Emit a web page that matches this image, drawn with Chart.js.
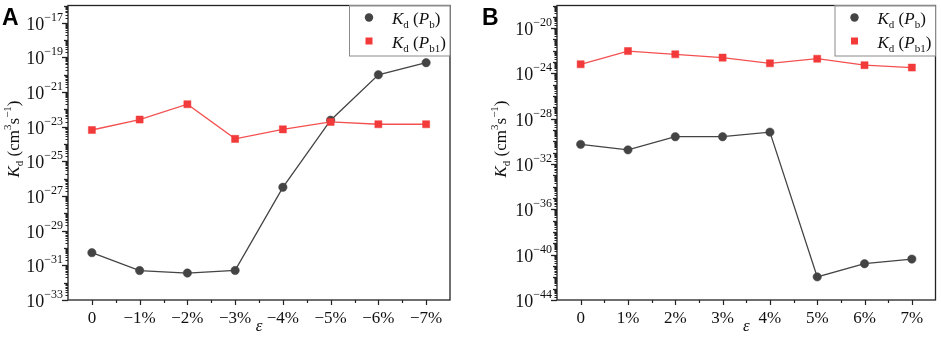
<!DOCTYPE html>
<html><head><meta charset="utf-8">
<script src="https://cdn.jsdelivr.net/npm/chart.js@4/dist/chart.umd.min.js"></script>
<style>
html,body{margin:0;padding:0;background:#fff;}
#wrap{position:relative;width:941px;height:338px;overflow:hidden;background:#fff;}
.panel{position:absolute;top:0;height:338px;}
#pa{left:0;width:470px;}
#pb{left:470px;width:471px;}
</style></head><body>
<div id="wrap">
  <div class="panel" id="pa"><canvas id="ca" width="470" height="338"></canvas></div>
  <div class="panel" id="pb"><canvas id="cb" width="471" height="338"></canvas></div>
</div>
<script>
// ---- data ----
const strainA = ['0', '\u22121%', '\u22122%', '\u22123%', '\u22124%', '\u22125%', '\u22126%', '\u22127%'];
const kdPbA  = [5.4e-31, 5.0e-32, 3.6e-32, 5.1e-32, 3.2e-27, 2.4e-23, 1.0e-20, 5.0e-20];
const kdPb1A = [6.5e-24, 2.6e-23, 2.0e-22, 2.0e-24, 7.1e-24, 1.9e-23, 1.4e-23, 1.4e-23];

const strainB = ['0', '1%', '2%', '3%', '4%', '5%', '6%', '7%'];
const kdPbB  = [5.5e-31, 1.8e-31, 2.6e-30, 2.6e-30, 6.6e-30, 1.1e-42, 1.6e-41, 4.1e-41];
const kdPb1B = [6.5e-24, 9.5e-23, 4.9e-23, 2.5e-23, 7.9e-24, 2.0e-23, 5.4e-24, 3.3e-24];

// y tick label exponents (labelled) and axis ranges (exponents)
const yLabelExpA = [-33, -31, -29, -27, -25, -23, -21, -19, -17];
const yRangeA = [-33, -16];
const yLabelExpB = [-44, -40, -36, -32, -28, -24, -20];
const yRangeB = [-44, -18];

const SERIF = "'Liberation Serif', serif";
const AXIS = '#222';
const BLACK = '#444444';
const RED = '#f23a3a';
const REDLINE = '#f45050';

function drawRich(ctx, x, y, parts) {
  let cx = x;
  for (const [t, size, it, dy] of parts) {
    ctx.font = (it ? 'italic ' : '') + size + 'px ' + SERIF;
    ctx.fillText(t, cx, y + dy);
    cx += ctx.measureText(t).width;
  }
  return cx - x;
}
function richWidth(ctx, parts) {
  let w = 0;
  for (const [t, size, it] of parts) {
    ctx.font = (it ? 'italic ' : '') + size + 'px ' + SERIF;
    w += ctx.measureText(t).width;
  }
  return w;
}

function makePanel(canvas, cfg) {
  const decoPlugin = {
    id: 'deco',
    beforeDraw(chart) {
      const c = chart.ctx;
      c.save(); c.fillStyle = '#fff'; c.fillRect(0, 0, chart.width, chart.height); c.restore();
    },
    afterDatasetsDraw(chart) {
      const c = chart.ctx, a = chart.chartArea;
      const ys = chart.scales.y, xs = chart.scales.x;
      c.save();
      c.strokeStyle = AXIS; c.lineWidth = 1.3;
      c.strokeRect(a.left, a.top, a.right - a.left, a.bottom - a.top);
      c.lineWidth = 1;
      for (let e = cfg.yRange[0]; e <= cfg.yRange[1]; e++) {
        for (let m = 1; m <= 9; m++) {
          const v = m * Math.pow(10, e);
          if (v < ys.min * 0.999 || v > ys.max * 1.001) continue;
          const py = Math.round(ys.getPixelForValue(v)) + 0.5;
          let len = 2.5;
          if (m === 1) len = cfg.yLabelExp.includes(e) ? 6 : 4;
          c.lineWidth = m === 1 ? 1.3 : 1;
          c.beginPath(); c.moveTo(a.left, py); c.lineTo(a.left - len, py); c.stroke();
        }
      }
      c.lineWidth = 1.2;
      c.fillStyle = '#111'; c.textBaseline = 'alphabetic'; c.textAlign = 'left';
      for (const e of cfg.yLabelExp) {
        const py = ys.getPixelForValue(Math.pow(10, e));
        const expTxt = '\u2212' + Math.abs(e);
        const parts = [['10', 18, false, 0], [expTxt, 12, false, -9]];
        const w = richWidth(c, parts);
        drawRich(c, a.left - 5 - w, py + 7, parts);
      }
      const n = xs.getLabels().length;
      for (let i = 0; i < n; i++) {
        const px = Math.round(xs.getPixelForValue(i)) + 0.5;
        c.beginPath(); c.moveTo(px, a.bottom); c.lineTo(px, a.bottom + 5); c.stroke();
        if (i < n - 1) {
          const pm = Math.round(xs.getPixelForValue(i + 0.5)) + 0.5;
          c.beginPath(); c.moveTo(pm, a.bottom); c.lineTo(pm, a.bottom + 3); c.stroke();
        }
      }
      c.font = 'italic 17px ' + SERIF; c.textAlign = 'center';
      c.fillText('\u03b5', (a.left + a.right) / 2, 331);
      c.save();
      c.translate(cfg.yTitleX, 139);
      c.rotate(-Math.PI / 2);
      c.textAlign = 'left';
      const tp = [['K', 17, true, 0], ['d', 11, false, 4], [' (cm', 17, false, 0], ['3', 11, false, -8],
                  ['s', 17, false, 0], ['\u22121', 11, false, -8], [')', 17, false, 0]];
      const tw = richWidth(c, tp);
      drawRich(c, -tw / 2, 6, tp);
      c.restore();
      const bw = 101, bh = 50;
      const bx = a.right - bw, by = a.top;
      c.fillStyle = '#fff'; c.fillRect(bx, by, bw, bh);
      c.strokeStyle = '#8a8a8a'; c.lineWidth = 1;
      c.strokeRect(bx + 0.5, by + 0.5, bw - 0.5, bh);
      c.fillStyle = BLACK;
      c.beginPath(); c.arc(bx + 20, by + 12, 4.2, 0, Math.PI * 2); c.fill();
      c.fillStyle = RED;
      c.fillRect(bx + 16.5, by + 32, 7, 7);
      c.fillStyle = '#111'; c.textAlign = 'left';
      drawRich(c, bx + 43, by + 18, [['K', 17, true, 0], ['d', 11, false, 4], [' (', 17, false, 0], ['P', 17, true, 0], ['b', 11, false, 4], [')', 17, false, 0]]);
      drawRich(c, bx + 43, by + 42, [['K', 17, true, 0], ['d', 11, false, 4], [' (', 17, false, 0], ['P', 17, true, 0], ['b1', 11, false, 4], [')', 17, false, 0]]);
      c.font = "bold 23px 'Liberation Sans', sans-serif";
      c.fillStyle = '#000';
      c.fillText(cfg.letter, cfg.letterX, 25);
      c.restore();
    }
  };

  return new Chart(canvas, {
    type: 'line',
    data: {
      labels: cfg.labels,
      datasets: [
        { label: 'Kd(Pb)', data: cfg.pb, borderColor: BLACK, backgroundColor: BLACK,
          pointBackgroundColor: BLACK, pointBorderColor: BLACK, pointBorderWidth: 0.5,
          pointStyle: 'circle', pointRadius: 4.2, borderWidth: 1.3, order: 1 },
        { label: 'Kd(Pb1)', data: cfg.pb1, borderColor: REDLINE, backgroundColor: RED,
          pointBackgroundColor: RED, pointBorderColor: RED, pointBorderWidth: 0.5,
          pointStyle: 'rect', pointRadius: 5, borderWidth: 1.3, order: 0 }
      ]
    },
    options: {
      responsive: false, animation: false, devicePixelRatio: 1,
      layout: { padding: { left: 0, right: cfg.padRight, top: 2, bottom: 0 } },
      plugins: { legend: { display: false }, tooltip: { enabled: false } },
      scales: {
        x: {
          type: 'category', offset: true,
          grid: { display: false, drawTicks: false }, border: { display: false },
          ticks: { font: { family: SERIF, size: 17 }, color: '#111', padding: 8, maxRotation: 0, autoSkip: false },
          afterFit(s) { s.height = 38; }
        },
        y: {
          type: 'logarithmic',
          min: Math.pow(10, cfg.yRange[0]), max: Math.pow(10, cfg.yRange[1]),
          grid: { display: false, drawTicks: false }, border: { display: false },
          ticks: { display: false },
          afterFit(s) { s.width = cfg.yWidth; }
        }
      }
    },
    plugins: [decoPlugin]
  });
}

function build() {
  makePanel(document.getElementById('ca'), {
    labels: strainA, pb: kdPbA, pb1: kdPb1A, yRange: yRangeA, yLabelExp: yLabelExpA,
    yWidth: 68, padRight: 20, yTitleX: 13, letter: 'A', letterX: 2
  });
  makePanel(document.getElementById('cb'), {
    labels: strainB, pb: kdPbB, pb1: kdPb1B, yRange: yRangeB, yLabelExp: yLabelExpB,
    yWidth: 87, padRight: 3, yTitleX: 30, letter: 'B', letterX: 12
  });
}
Promise.all([
  document.fonts.load("17px 'Liberation Serif'"),
  document.fonts.load("italic 17px 'Liberation Serif'"),
  document.fonts.load("bold 23px 'Liberation Sans'")
]).then(build, build);
</script>
</body></html>
